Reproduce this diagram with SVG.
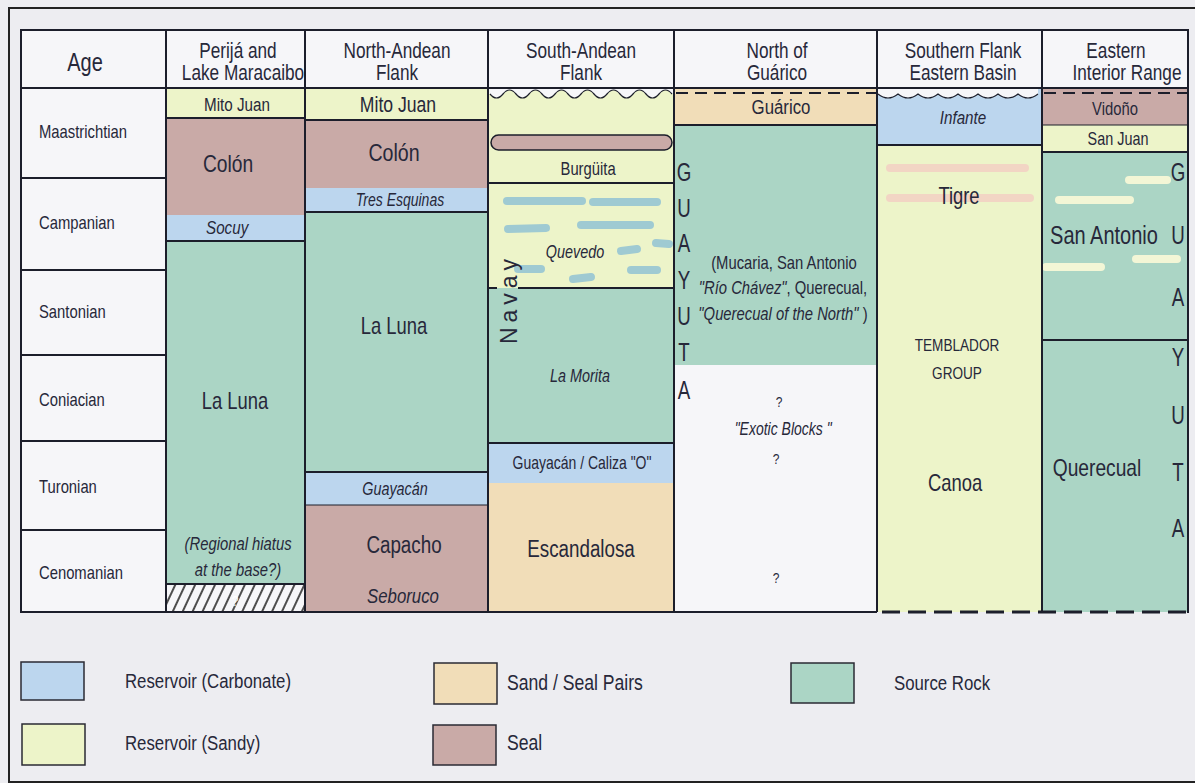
<svg xmlns="http://www.w3.org/2000/svg" width="1195" height="783" viewBox="0 0 1195 783">
<defs>
<style>
.t{font-family:"Liberation Sans Narrow","Liberation Sans",Arial,sans-serif;fill:#27283a;transform:scaleX(.8);transform-box:fill-box;transform-origin:center}
.lft{transform-origin:left center}
.nar{transform:scaleX(.72)}
.r{font-family:"Liberation Sans",Arial,sans-serif;fill:#27283a}
.c{text-anchor:middle}
.i{font-style:italic}
.ln{stroke:#1c1e2b;stroke-width:2;fill:none}
.thin{stroke:#1c1e2b;stroke-width:1.2;fill:none}
.carb{fill:#bcd6ee}
.sandy{fill:#edf4c9}
.pair{fill:#f1ddb8}
.seal{fill:#c9aaa7}
.src{fill:#abd5c5}
.cell{fill:#f6f6f9}
.bd{stroke:#9fcad2;stroke-width:8;stroke-linecap:round}
.yd{stroke:#f3f6d6;stroke-width:8;stroke-linecap:round}
.pd{stroke:#f2d5c4;stroke-width:8;stroke-linecap:round}
.lg{stroke:#2a2a33;stroke-width:1.5}
</style>
<pattern id="hatch" width="9" height="9" patternUnits="userSpaceOnUse" patternTransform="rotate(25)">
<rect width="9" height="9" fill="#f6f6f9"/>
<line x1="1" y1="0" x2="1" y2="9" stroke="#222" stroke-width="1.6"/>
</pattern>
</defs>
<rect width="1195" height="783" fill="#ededf1"/>
<rect x="9" y="8" width="1200" height="774" fill="none" stroke="#222" stroke-width="2"/>

<g id="header">
<rect x="21" y="30" width="1167" height="58" class="cell"/>
<text class="t c" x="85" y="71" font-size="25">Age</text>
<text class="t c" x="238" y="58" font-size="21.5">Perijá and</text>
<text class="t c" x="243" y="80" font-size="21.5">Lake Maracaibo</text>
<text class="t c" x="397" y="58" font-size="21.5">North-Andean</text>
<text class="t c" x="397" y="80" font-size="21.5">Flank</text>
<text class="t c" x="581" y="58" font-size="21.5">South-Andean</text>
<text class="t c" x="581" y="80" font-size="21.5">Flank</text>
<text class="t c" x="777" y="58" font-size="21.5">North of</text>
<text class="t c" x="777" y="80" font-size="21.5">Guárico</text>
<text class="t c" x="963" y="58" font-size="21.5">Southern Flank</text>
<text class="t c" x="963" y="80" font-size="21.5">Eastern Basin</text>
<text class="t c" x="1116" y="58" font-size="21.5">Eastern</text>
<text class="t c" x="1127" y="80" font-size="21.5">Interior Range</text>
</g>

<g id="age-column">
<rect x="21" y="88" width="145" height="524" class="cell"/>
<text class="t lft" x="39" y="138" font-size="18.5">Maastrichtian</text>
<text class="t lft" x="39" y="229" font-size="18.5">Campanian</text>
<text class="t lft" x="39" y="318" font-size="18.5">Santonian</text>
<text class="t lft" x="39" y="406" font-size="18.5">Coniacian</text>
<text class="t lft" x="39" y="493" font-size="18.5">Turonian</text>
<text class="t lft" x="39" y="579" font-size="18.5">Cenomanian</text>
</g>

<g id="perija">
<rect x="166" y="88" width="139" height="30" class="sandy"/>
<rect x="166" y="118" width="139" height="97" class="seal"/>
<rect x="166" y="215" width="139" height="26" class="carb"/>
<rect x="166" y="241" width="139" height="343" class="src"/>
<rect x="166" y="584" width="139" height="28" fill="url(#hatch)"/>
<text class="t c" x="237" y="111" font-size="19">Mito Juan</text>
<text class="t c" x="228" y="172" font-size="24">Colón</text>
<text class="t c i" x="227" y="234" font-size="19">Socuy</text>
<text class="t c" x="235" y="409" font-size="23">La Luna</text>
<text class="t c i" x="238" y="550" font-size="18.5">(Regional hiatus</text>
<text class="t c i" x="238" y="576" font-size="18.5">at the base?)</text>
<text class="t c" x="235" y="606" font-size="15" style="fill:#ffffff">?</text>
</g>

<g id="north-andean">
<rect x="305" y="88" width="183" height="32" class="sandy"/>
<rect x="305" y="120" width="183" height="68" class="seal"/>
<rect x="305" y="188" width="183" height="24" class="carb"/>
<rect x="305" y="212" width="183" height="260" class="src"/>
<rect x="305" y="472" width="183" height="33" class="carb"/>
<rect x="305" y="505" width="183" height="107" class="seal"/>
<text class="t c" x="398" y="112" font-size="22">Mito Juan</text>
<text class="t c" x="394" y="161" font-size="24.5">Colón</text>
<text class="t c i" x="400" y="206" font-size="17.5">Tres Esquinas</text>
<text class="t c" x="394" y="334" font-size="23">La Luna</text>
<text class="t c i" x="395" y="495" font-size="18">Guayacán</text>
<text class="t c" x="404" y="553" font-size="23.5">Capacho</text>
<text class="t c i" x="403" y="603" font-size="21">Seboruco</text>
</g>

<g id="south-andean">
<rect x="488" y="88" width="186" height="200" class="sandy"/>
<path d="M490,94 q6.5,8 13,0 t13,0 t13,0 t13,0 t13,0 t13,0 t13,0 t13,0 t13,0 t13,0 t13,0 t13,0 t13,0 t13,0 L674,94 L674,88 L488,88 L488,94 Z" class="cell"/>
<path d="M490,94 q6.5,8 13,0 t13,0 t13,0 t13,0 t13,0 t13,0 t13,0 t13,0 t13,0 t13,0 t13,0 t13,0 t13,0 t13,0" class="thin"/>
<rect x="491" y="135" width="181" height="15" rx="7.5" class="seal" stroke="#1c1e2b" stroke-width="1.5"/>
<line x1="507" y1="201" x2="582" y2="201" class="bd"/>
<line x1="593" y1="202" x2="657" y2="202" class="bd"/>
<line x1="508" y1="229" x2="546" y2="228" class="bd"/>
<line x1="581" y1="225" x2="650" y2="225" class="bd"/>
<line x1="621" y1="251" x2="637" y2="249" class="bd"/>
<line x1="656" y1="243" x2="669" y2="244" class="bd"/>
<line x1="518" y1="269" x2="541" y2="269" class="bd"/>
<line x1="573" y1="279" x2="591" y2="277" class="bd"/>
<line x1="631" y1="270" x2="657" y2="270" class="bd"/>
<rect x="488" y="288" width="186" height="155" class="src"/>
<rect x="488" y="443" width="186" height="40" class="carb"/>
<rect x="488" y="483" width="186" height="129" class="pair"/>
<text class="t c" x="588" y="175" font-size="18.5">Burgüita</text>
<text class="t c i" x="575" y="258" font-size="18">Quevedo</text>
<text class="r c" transform="translate(517,299) rotate(-90)" font-size="23" letter-spacing="5">Navay</text>
<text class="t c i" x="580" y="382" font-size="18">La Morita</text>
<text class="t c" x="582" y="469" font-size="17.5">Guayacán / Caliza "O"</text>
<text class="t c" x="581" y="557" font-size="23.5">Escandalosa</text>
</g>

<g id="north-guarico">
<rect x="674" y="88" width="203" height="37" class="pair"/>
<rect x="674" y="125" width="203" height="240" class="src"/>
<rect x="674" y="365" width="203" height="247" class="cell"/>
<text class="t c" x="781" y="114" font-size="21">Guárico</text>
<text class="t c nar" font-size="26" x="684"><tspan x="684" y="181">G</tspan><tspan x="684" y="217">U</tspan><tspan x="684" y="252">A</tspan><tspan x="684" y="289">Y</tspan><tspan x="684" y="325">U</tspan><tspan x="684" y="361">T</tspan><tspan x="684" y="399">A</tspan></text>
<text class="t c" x="784" y="269" font-size="18.5">(Mucaria, San Antonio</text>
<text class="t c" x="783" y="294" font-size="18.5"><tspan class="i">"Río Chávez"</tspan>, Querecual,</text>
<text class="t c" x="783" y="320" font-size="18.5"><tspan class="i">"Querecual of the North"</tspan> )</text>
<text class="t c" x="779" y="407" font-size="15">?</text>
<text class="t c i" x="783" y="435" font-size="17.5">"Exotic Blocks "</text>
<text class="t c" x="776" y="464" font-size="15">?</text>
<text class="t c" x="776" y="583" font-size="15">?</text>
</g>

<g id="southern-flank">
<rect x="877" y="88" width="165" height="57" class="carb"/>
<path d="M878,88 V94 q10,8 20,0 q10,8 20,0 q10,8 20,0 q10,8 20,0 q10,8 20,0 q10,8 20,0 q10,8 20,0 q10,8 20,0 V88 Z" class="cell"/>
<path d="M878,94 q10,8 20,0 q10,8 20,0 q10,8 20,0 q10,8 20,0 q10,8 20,0 q10,8 20,0 q10,8 20,0 q10,8 20,0" class="thin"/>
<rect x="877" y="145" width="165" height="467" class="sandy"/>
<line x1="890" y1="168" x2="1025" y2="168" class="pd"/>
<line x1="890" y1="198" x2="1030" y2="198" class="pd"/>
<text class="t c i" x="963" y="124" font-size="19">Infante</text>
<text class="t c" x="959" y="204" font-size="23">Tigre</text>
<text class="t c" x="957" y="351" font-size="17">TEMBLADOR</text>
<text class="t c" x="957" y="379" font-size="17">GROUP</text>
<text class="t c" x="955" y="491" font-size="23">Canoa</text>
</g>

<g id="eastern-interior">
<rect x="1042" y="88" width="146" height="37" class="seal"/>
<rect x="1042" y="125" width="146" height="27" class="sandy"/>
<rect x="1042" y="152" width="146" height="460" class="src"/>
<line x1="1129" y1="180" x2="1167" y2="180" class="yd"/>
<line x1="1059" y1="200" x2="1130" y2="200" class="yd"/>
<line x1="1136" y1="259" x2="1177" y2="259" class="yd"/>
<line x1="1046" y1="267" x2="1101" y2="267" class="yd"/>
<text class="t c" x="1115" y="115" font-size="18.5">Vidoño</text>
<text class="t c" x="1118" y="145" font-size="18">San Juan</text>
<text class="t c" x="1104" y="244" font-size="25">San Antonio</text>
<text class="t c" x="1097" y="476" font-size="24">Querecual</text>
<text class="t c nar" font-size="26" x="1178"><tspan x="1178" y="181">G</tspan><tspan x="1178" y="244">U</tspan><tspan x="1178" y="306">A</tspan><tspan x="1178" y="366">Y</tspan><tspan x="1178" y="424">U</tspan><tspan x="1178" y="481">T</tspan><tspan x="1178" y="537">A</tspan></text>
</g>

<g id="connectors">
<line x1="21" y1="30" x2="1188" y2="30" class="ln"/>
<line x1="21" y1="88" x2="1188" y2="88" class="ln"/>
<line x1="21" y1="29" x2="21" y2="613" class="ln"/>
<line x1="1188" y1="29" x2="1188" y2="613" class="ln"/>
<line x1="20" y1="612" x2="877" y2="612" class="ln"/>
<line x1="882" y1="612" x2="1188" y2="612" stroke="#1c1e2b" stroke-width="3" stroke-dasharray="18 8"/>
<line x1="676" y1="93" x2="877" y2="93" stroke="#1c1e2b" stroke-width="2" stroke-dasharray="12 7"/>
<line x1="1044" y1="93" x2="1188" y2="93" stroke="#1c1e2b" stroke-width="2" stroke-dasharray="12 7"/>
<line x1="166" y1="30" x2="166" y2="612" class="ln"/>
<line x1="305" y1="30" x2="305" y2="612" class="ln"/>
<line x1="488" y1="30" x2="488" y2="612" class="ln"/>
<line x1="674" y1="30" x2="674" y2="612" class="ln"/>
<line x1="877" y1="30" x2="877" y2="612" class="ln"/>
<line x1="1042" y1="30" x2="1042" y2="612" class="ln"/>
<line x1="21" y1="178" x2="166" y2="178" class="ln"/>
<line x1="21" y1="270" x2="166" y2="270" class="ln"/>
<line x1="21" y1="355" x2="166" y2="355" class="ln"/>
<line x1="21" y1="441" x2="166" y2="441" class="ln"/>
<line x1="21" y1="530" x2="166" y2="530" class="ln"/>
<line x1="166" y1="118" x2="305" y2="118" class="ln"/>
<line x1="166" y1="241" x2="305" y2="241" class="ln"/>
<line x1="166" y1="584" x2="305" y2="584" class="ln"/>
<line x1="305" y1="120" x2="488" y2="120" class="ln"/>
<line x1="305" y1="212" x2="488" y2="212" class="ln"/>
<line x1="305" y1="472" x2="488" y2="472" class="ln"/>
<line x1="305" y1="505" x2="488" y2="505" class="thin"/>
<line x1="488" y1="183" x2="674" y2="183" class="ln"/>
<line x1="488" y1="288" x2="497" y2="288" class="ln"/>
<line x1="518" y1="288" x2="674" y2="288" class="ln"/>
<line x1="488" y1="443" x2="674" y2="443" class="ln"/>
<line x1="674" y1="125" x2="877" y2="125" class="ln"/>
<line x1="877" y1="145" x2="1042" y2="145" class="ln"/>
<line x1="1042" y1="125" x2="1188" y2="125" class="thin"/>
<line x1="1042" y1="152" x2="1188" y2="152" class="ln"/>
<line x1="1042" y1="340" x2="1188" y2="340" class="ln"/>
</g>

<g id="legend">
<g id="lg-carbonate"><rect x="21" y="662" width="63" height="38" class="carb lg"/><text class="t lft" x="125" y="688" font-size="21">Reservoir (Carbonate)</text></g>
<g id="lg-sandy"><rect x="22" y="724" width="63" height="41" class="sandy lg"/><text class="t lft" x="125" y="750" font-size="21">Reservoir (Sandy)</text></g>
<g id="lg-pairs"><rect x="434" y="663" width="63" height="41" class="pair lg"/><text class="t lft" x="507" y="690" font-size="22">Sand / Seal Pairs</text></g>
<g id="lg-seal"><rect x="433" y="725" width="63" height="40" class="seal lg"/><text class="t lft" x="507" y="750" font-size="22">Seal</text></g>
<g id="lg-source"><rect x="791" y="663" width="63" height="40" class="src lg"/><text class="t lft" x="894" y="690" font-size="21">Source Rock</text></g>
</g>
</svg>
